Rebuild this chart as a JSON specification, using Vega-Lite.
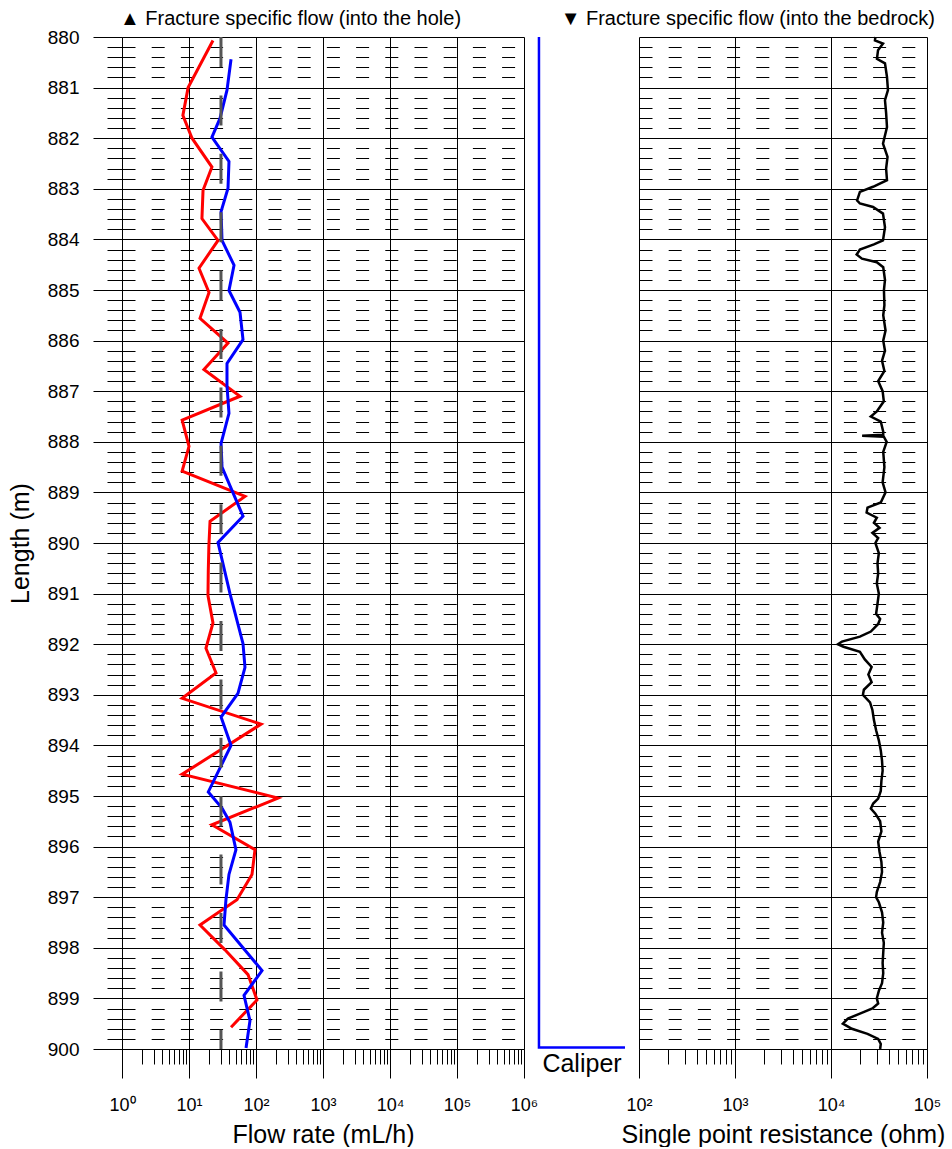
{
  "$schema": "https://vega.github.io/schema/vega-lite/v6.json",
  "background": "white",
  "padding": {"left": 8, "top": 9, "right": 0, "bottom": 0},
  "autosize": {"type": "pad"},
  "spacing": 0,
  "bounds": "flush",
  "config": {
    "font": "Liberation Sans",
    "view": {"stroke": null},
    "axis": {"labelFont": "Liberation Sans", "titleFont": "Liberation Sans", "labelColor": "black", "titleColor": "black", "labelFontWeight": "normal", "titleFontWeight": "normal", "domainColor": "black", "tickColor": "black", "gridColor": "black", "gridOpacity": 1, "labelFlush": false, "labelOverlap": false, "tickCount": 1000},
    "title": {"font": "Liberation Sans", "fontSize": 20, "fontWeight": "normal", "color": "black"}
  },
  "datasets": {
    "flow": [
      {"series": "hole", "depth": 880.07, "flow": 22.8},
      {"series": "hole", "depth": 881.0, "flow": 9.7},
      {"series": "hole", "depth": 881.55, "flow": 8.1},
      {"series": "hole", "depth": 882.0, "flow": 11.1},
      {"series": "hole", "depth": 882.57, "flow": 22.0},
      {"series": "hole", "depth": 883.03, "flow": 16.2},
      {"series": "hole", "depth": 883.59, "flow": 15.6},
      {"series": "hole", "depth": 884.02, "flow": 27.1},
      {"series": "hole", "depth": 884.57, "flow": 14.1},
      {"series": "hole", "depth": 885.05, "flow": 19.9},
      {"series": "hole", "depth": 885.56, "flow": 14.6},
      {"series": "hole", "depth": 886.05, "flow": 38.2},
      {"series": "hole", "depth": 886.57, "flow": 16.7},
      {"series": "hole", "depth": 887.1, "flow": 57.7},
      {"series": "hole", "depth": 887.57, "flow": 7.9},
      {"series": "hole", "depth": 888.09, "flow": 10.0},
      {"series": "hole", "depth": 888.58, "flow": 7.9},
      {"series": "hole", "depth": 889.08, "flow": 68.5},
      {"series": "hole", "depth": 889.57, "flow": 20.6},
      {"series": "hole", "depth": 890.06, "flow": 19.8},
      {"series": "hole", "depth": 890.55, "flow": 19.4},
      {"series": "hole", "depth": 891.04, "flow": 19.2},
      {"series": "hole", "depth": 891.58, "flow": 22.8},
      {"series": "hole", "depth": 892.08, "flow": 17.9},
      {"series": "hole", "depth": 892.57, "flow": 25.3},
      {"series": "hole", "depth": 893.07, "flow": 7.9},
      {"series": "hole", "depth": 893.58, "flow": 119},
      {"series": "hole", "depth": 894.57, "flow": 7.9},
      {"series": "hole", "depth": 895.04, "flow": 213},
      {"series": "hole", "depth": 895.57, "flow": 22.0},
      {"series": "hole", "depth": 896.06, "flow": 96.6},
      {"series": "hole", "depth": 896.55, "flow": 87.1},
      {"series": "hole", "depth": 897.05, "flow": 52.0},
      {"series": "hole", "depth": 897.55, "flow": 14.6},
      {"series": "hole", "depth": 898.04, "flow": 34.4},
      {"series": "hole", "depth": 898.53, "flow": 76.0},
      {"series": "hole", "depth": 899.03, "flow": 103.5},
      {"series": "hole", "depth": 899.57, "flow": 42.4},
      {"series": "bedrock", "depth": 880.44, "flow": 42.4},
      {"series": "bedrock", "depth": 881.05, "flow": 36.9},
      {"series": "bedrock", "depth": 881.61, "flow": 29.0},
      {"series": "bedrock", "depth": 881.98, "flow": 22.0},
      {"series": "bedrock", "depth": 882.46, "flow": 39.5},
      {"series": "bedrock", "depth": 882.99, "flow": 38.2},
      {"series": "bedrock", "depth": 883.45, "flow": 30.1},
      {"series": "bedrock", "depth": 884.02, "flow": 31.1},
      {"series": "bedrock", "depth": 884.51, "flow": 47.0},
      {"series": "bedrock", "depth": 885.01, "flow": 39.5},
      {"series": "bedrock", "depth": 885.44, "flow": 57.7},
      {"series": "bedrock", "depth": 885.98, "flow": 64.0},
      {"series": "bedrock", "depth": 886.45, "flow": 36.9},
      {"series": "bedrock", "depth": 886.89, "flow": 36.9},
      {"series": "bedrock", "depth": 887.44, "flow": 39.5},
      {"series": "bedrock", "depth": 888.03, "flow": 30.1},
      {"series": "bedrock", "depth": 888.5, "flow": 31.1},
      {"series": "bedrock", "depth": 889.47, "flow": 64.0},
      {"series": "bedrock", "depth": 889.99, "flow": 27.1},
      {"series": "bedrock", "depth": 891.0, "flow": 40.9},
      {"series": "bedrock", "depth": 891.99, "flow": 64.0},
      {"series": "bedrock", "depth": 892.46, "flow": 68.5},
      {"series": "bedrock", "depth": 892.97, "flow": 53.8},
      {"series": "bedrock", "depth": 893.44, "flow": 30.1},
      {"series": "bedrock", "depth": 894.0, "flow": 42.4},
      {"series": "bedrock", "depth": 894.92, "flow": 19.4},
      {"series": "bedrock", "depth": 895.24, "flow": 31.1},
      {"series": "bedrock", "depth": 895.52, "flow": 40.9},
      {"series": "bedrock", "depth": 896.06, "flow": 50.2},
      {"series": "bedrock", "depth": 896.55, "flow": 39.5},
      {"series": "bedrock", "depth": 897.05, "flow": 35.6},
      {"series": "bedrock", "depth": 897.55, "flow": 33.3},
      {"series": "bedrock", "depth": 898.45, "flow": 123},
      {"series": "bedrock", "depth": 898.94, "flow": 66.2},
      {"series": "bedrock", "depth": 899.44, "flow": 81.3},
      {"series": "bedrock", "depth": 899.98, "flow": 71.0}
    ],
    "limit": [{"limit": 30}],
    "caliper": [
      {"depth": 880.0, "caliper": 76},
      {"depth": 893.0, "caliper": 76.2},
      {"depth": 899.97, "caliper": 76},
      {"depth": 899.97, "caliper": 168}
    ],
    "spr": [
      {"depth": 880.0, "resistance": 29000},
      {"depth": 880.07, "resistance": 28700},
      {"depth": 880.13, "resistance": 34800},
      {"depth": 880.26, "resistance": 30900},
      {"depth": 880.43, "resistance": 30100},
      {"depth": 880.52, "resistance": 36500},
      {"depth": 880.79, "resistance": 38300},
      {"depth": 881.05, "resistance": 39200},
      {"depth": 881.25, "resistance": 36500},
      {"depth": 881.5, "resistance": 37500},
      {"depth": 881.78, "resistance": 38300},
      {"depth": 882.11, "resistance": 34800},
      {"depth": 882.37, "resistance": 38800},
      {"depth": 882.6, "resistance": 37500},
      {"depth": 882.83, "resistance": 38300},
      {"depth": 882.96, "resistance": 27400},
      {"depth": 883.06, "resistance": 20000},
      {"depth": 883.23, "resistance": 18700},
      {"depth": 883.29, "resistance": 20000},
      {"depth": 883.36, "resistance": 27400},
      {"depth": 883.49, "resistance": 34800},
      {"depth": 883.76, "resistance": 36500},
      {"depth": 884.02, "resistance": 34800},
      {"depth": 884.1, "resistance": 28000},
      {"depth": 884.2, "resistance": 20000},
      {"depth": 884.3, "resistance": 18500},
      {"depth": 884.38, "resistance": 21000},
      {"depth": 884.45, "resistance": 30000},
      {"depth": 884.55, "resistance": 35000},
      {"depth": 884.8, "resistance": 36500},
      {"depth": 885.0, "resistance": 35600},
      {"depth": 885.3, "resistance": 36000},
      {"depth": 885.5, "resistance": 35000},
      {"depth": 885.8, "resistance": 37000},
      {"depth": 886.0, "resistance": 35000},
      {"depth": 886.2, "resistance": 36500},
      {"depth": 886.4, "resistance": 34000},
      {"depth": 886.6, "resistance": 36000},
      {"depth": 886.8, "resistance": 31000},
      {"depth": 887.0, "resistance": 34500},
      {"depth": 887.2, "resistance": 35500},
      {"depth": 887.4, "resistance": 30000},
      {"depth": 887.5, "resistance": 26000},
      {"depth": 887.6, "resistance": 33000},
      {"depth": 887.8, "resistance": 35000},
      {"depth": 887.86, "resistance": 35000},
      {"depth": 887.88, "resistance": 21100},
      {"depth": 887.9, "resistance": 35500},
      {"depth": 888.0, "resistance": 38000},
      {"depth": 888.2, "resistance": 35000},
      {"depth": 888.5, "resistance": 36000},
      {"depth": 888.8, "resistance": 34500},
      {"depth": 889.0, "resistance": 37000},
      {"depth": 889.2, "resistance": 33000},
      {"depth": 889.3, "resistance": 24000},
      {"depth": 889.4, "resistance": 23500},
      {"depth": 889.5, "resistance": 30000},
      {"depth": 889.6, "resistance": 28000},
      {"depth": 889.7, "resistance": 32000},
      {"depth": 889.8, "resistance": 27000},
      {"depth": 889.9, "resistance": 31000},
      {"depth": 890.0, "resistance": 29000},
      {"depth": 890.2, "resistance": 31500},
      {"depth": 890.4, "resistance": 30500},
      {"depth": 890.6, "resistance": 31000},
      {"depth": 890.8, "resistance": 30000},
      {"depth": 891.0, "resistance": 31500},
      {"depth": 891.2, "resistance": 30500},
      {"depth": 891.4, "resistance": 29500},
      {"depth": 891.5, "resistance": 32500},
      {"depth": 891.6, "resistance": 31000},
      {"depth": 891.75, "resistance": 26000},
      {"depth": 891.85, "resistance": 20000},
      {"depth": 891.95, "resistance": 13000},
      {"depth": 892.0, "resistance": 11800},
      {"depth": 892.05, "resistance": 13500},
      {"depth": 892.15, "resistance": 20000},
      {"depth": 892.3, "resistance": 22500},
      {"depth": 892.45, "resistance": 26500},
      {"depth": 892.6, "resistance": 24500},
      {"depth": 892.75, "resistance": 26500},
      {"depth": 892.9, "resistance": 22000},
      {"depth": 893.0, "resistance": 21500},
      {"depth": 893.15, "resistance": 25500},
      {"depth": 893.3, "resistance": 27000},
      {"depth": 893.5, "resistance": 28000},
      {"depth": 893.7, "resistance": 29500},
      {"depth": 893.9, "resistance": 31500},
      {"depth": 894.1, "resistance": 33000},
      {"depth": 894.3, "resistance": 34000},
      {"depth": 894.5, "resistance": 34500},
      {"depth": 894.7, "resistance": 33500},
      {"depth": 894.9, "resistance": 33000},
      {"depth": 895.05, "resistance": 31000},
      {"depth": 895.15, "resistance": 27500},
      {"depth": 895.25, "resistance": 26000},
      {"depth": 895.35, "resistance": 29000},
      {"depth": 895.5, "resistance": 32500},
      {"depth": 895.7, "resistance": 33500},
      {"depth": 895.9, "resistance": 31000},
      {"depth": 896.1, "resistance": 32000},
      {"depth": 896.3, "resistance": 33500},
      {"depth": 896.5, "resistance": 34000},
      {"depth": 896.7, "resistance": 32500},
      {"depth": 896.9, "resistance": 30000},
      {"depth": 897.0, "resistance": 29500},
      {"depth": 897.1, "resistance": 31500},
      {"depth": 897.3, "resistance": 34000},
      {"depth": 897.5, "resistance": 35000},
      {"depth": 897.7, "resistance": 34000},
      {"depth": 897.9, "resistance": 35500},
      {"depth": 898.1, "resistance": 35000},
      {"depth": 898.3, "resistance": 34500},
      {"depth": 898.5, "resistance": 35000},
      {"depth": 898.7, "resistance": 34000},
      {"depth": 898.85, "resistance": 31500},
      {"depth": 899.0, "resistance": 30000},
      {"depth": 899.1, "resistance": 31000},
      {"depth": 899.2, "resistance": 27000},
      {"depth": 899.3, "resistance": 20000},
      {"depth": 899.4, "resistance": 15000},
      {"depth": 899.5, "resistance": 13300},
      {"depth": 899.6, "resistance": 16500},
      {"depth": 899.7, "resistance": 24000},
      {"depth": 899.8, "resistance": 31000},
      {"depth": 899.9, "resistance": 33000},
      {"depth": 900.0, "resistance": 32500}
    ]
  },
  "hconcat": [
    {
      "width": 402,
      "height": 1012,
      "title": {"text": "▲   Fracture specific flow (into the hole)", "anchor": "start", "frame": "group", "dx": -2, "offset": -17, "baseline": "alphabetic"},
      "layer": [
        {
          "data": {"name": "flow"},
          "transform": [{"filter": "datum.series === 'hole'"}],
          "mark": {"type": "line", "color": "#ff0000", "strokeWidth": 3},
          "encoding": {
            "x": {
              "field": "flow", "type": "quantitative",
              "scale": {"type": "log", "domain": [1, 1000000], "nice": false},
              "axis": {
                "title": "Flow rate (mL/h)", "titleFontSize": 25, "titlePadding": 8,
                "labelFontSize": 18, "labelPadding": 18, "tickCount": 1000,
                "values": [1,2,3,4,5,6,7,8,9,10,20,30,40,50,60,70,80,90,100,200,300,400,500,600,700,800,900,1000,2000,3000,4000,5000,6000,7000,8000,9000,10000,20000,30000,40000,50000,60000,70000,80000,90000,100000,200000,300000,400000,500000,600000,700000,800000,900000,1000000],
                "labelExpr": "abs(log(datum.value)/LN10 - round(log(datum.value)/LN10)) < 0.001 ? '10' + ['⁰','¹','²','³','⁴','⁵','⁶'][round(log(datum.value)/LN10)] : ''",
                "tickSize": {"condition": {"test": "abs(log(datum.value)/LN10 - round(log(datum.value)/LN10)) < 0.001", "value": 29}, "value": 15},
                "grid": true,
                "gridOpacity": {"condition": {"test": "abs(log(datum.value)/LN10 - round(log(datum.value)/LN10)) < 0.001", "value": 1}, "value": 0}
              }
            },
            "y": {
              "field": "depth", "type": "quantitative",
              "scale": {"domain": [880, 900], "reverse": true, "nice": false, "zero": false},
              "axis": {
                "title": "Length (m)", "titleFontSize": 25, "titlePadding": 14,
                "labelFontSize": 19, "labelPadding": 14, "tickCount": 1000,
                "values": [880,880.2,880.4,880.6,880.8,881,881.2,881.4,881.6,881.8,882,882.2,882.4,882.6,882.8,883,883.2,883.4,883.6,883.8,884,884.2,884.4,884.6,884.8,885,885.2,885.4,885.6,885.8,886,886.2,886.4,886.6,886.8,887,887.2,887.4,887.6,887.8,888,888.2,888.4,888.6,888.8,889,889.2,889.4,889.6,889.8,890,890.2,890.4,890.6,890.8,891,891.2,891.4,891.6,891.8,892,892.2,892.4,892.6,892.8,893,893.2,893.4,893.6,893.8,894,894.2,894.4,894.6,894.8,895,895.2,895.4,895.6,895.8,896,896.2,896.4,896.6,896.8,897,897.2,897.4,897.6,897.8,898,898.2,898.4,898.6,898.8,899,899.2,899.4,899.6,899.8,900],
                "labelExpr": "abs(datum.value - round(datum.value)) < 0.01 ? format(datum.value, 'd') : ''",
                "tickSize": {"condition": {"test": "abs(datum.value - round(datum.value)) < 0.01", "value": 29}, "value": 15},
                "grid": true,
                "gridDash": {"condition": {"test": "abs(datum.value - round(datum.value)) < 0.01", "value": []}, "value": [13, 16.2]}
              }
            },
            "order": {"field": "depth"}
          }
        },
        {
          "data": {"name": "flow"},
          "transform": [{"filter": "datum.series === 'bedrock'"}],
          "mark": {"type": "line", "color": "#0000ff", "strokeWidth": 3},
          "encoding": {
            "x": {"field": "flow", "type": "quantitative"},
            "y": {"field": "depth", "type": "quantitative"},
            "order": {"field": "depth"}
          }
        },
        {
          "data": {"name": "limit"},
          "mark": {"type": "rule", "color": "#555555", "strokeWidth": 3, "strokeDash": [30, 28.4]},
          "encoding": {
            "x": {"field": "limit", "type": "quantitative"}
          }
        }
      ]
    },
    {
      "width": 115,
      "height": 1012,
      "data": {"name": "caliper"},
      "mark": {"type": "line", "color": "#0000ff", "strokeWidth": 2.5},
      "encoding": {
        "x": {"field": "caliper", "type": "quantitative", "scale": {"domain": [60, 183], "nice": false, "zero": false}, "axis": {"title": "Caliper", "titleFontSize": 25, "titlePadding": 2, "domain": false, "ticks": false, "labels": false, "grid": false}},
        "y": {"field": "depth", "type": "quantitative", "scale": {"domain": [880, 900], "reverse": true, "nice": false, "zero": false}, "axis": null},
        "order": {"field": "depth"}
      }
    },
    {
      "width": 288,
      "height": 1012,
      "title": {"text": "▼   Fracture specific flow (into the bedrock)", "anchor": "end", "frame": "group", "dx": 8, "offset": -13, "baseline": "alphabetic"},
      "data": {"name": "spr"},
      "mark": {"type": "line", "color": "black", "strokeWidth": 2.5},
      "encoding": {
        "x": {
          "field": "resistance", "type": "quantitative",
          "scale": {"type": "log", "domain": [100, 100000], "nice": false},
          "axis": {
            "title": "Single point resistance (ohm)", "titleFontSize": 25, "titlePadding": 8,
            "labelFontSize": 18, "labelPadding": 18, "tickCount": 1000,
            "values": [100,200,300,400,500,600,700,800,900,1000,2000,3000,4000,5000,6000,7000,8000,9000,10000,20000,30000,40000,50000,60000,70000,80000,90000,100000],
            "labelExpr": "abs(log(datum.value)/LN10 - round(log(datum.value)/LN10)) < 0.001 ? '10' + ['⁰','¹','²','³','⁴','⁵','⁶'][round(log(datum.value)/LN10)] : ''",
            "tickSize": {"condition": {"test": "abs(log(datum.value)/LN10 - round(log(datum.value)/LN10)) < 0.001", "value": 29}, "value": 15},
            "grid": true,
            "gridOpacity": {"condition": {"test": "abs(log(datum.value)/LN10 - round(log(datum.value)/LN10)) < 0.001", "value": 1}, "value": 0}
          }
        },
        "y": {
          "field": "depth", "type": "quantitative",
          "scale": {"domain": [880, 900], "reverse": true, "nice": false, "zero": false},
          "axis": {
            "title": null, "labels": false, "ticks": false, "domain": false, "tickCount": 1000,
            "values": [880,880.2,880.4,880.6,880.8,881,881.2,881.4,881.6,881.8,882,882.2,882.4,882.6,882.8,883,883.2,883.4,883.6,883.8,884,884.2,884.4,884.6,884.8,885,885.2,885.4,885.6,885.8,886,886.2,886.4,886.6,886.8,887,887.2,887.4,887.6,887.8,888,888.2,888.4,888.6,888.8,889,889.2,889.4,889.6,889.8,890,890.2,890.4,890.6,890.8,891,891.2,891.4,891.6,891.8,892,892.2,892.4,892.6,892.8,893,893.2,893.4,893.6,893.8,894,894.2,894.4,894.6,894.8,895,895.2,895.4,895.6,895.8,896,896.2,896.4,896.6,896.8,897,897.2,897.4,897.6,897.8,898,898.2,898.4,898.6,898.8,899,899.2,899.4,899.6,899.8,900],
            "grid": true,
            "gridDash": {"condition": {"test": "abs(datum.value - round(datum.value)) < 0.01", "value": []}, "value": [13, 16.2]}
          }
        },
        "order": {"field": "depth"}
      }
    }
  ]
}
